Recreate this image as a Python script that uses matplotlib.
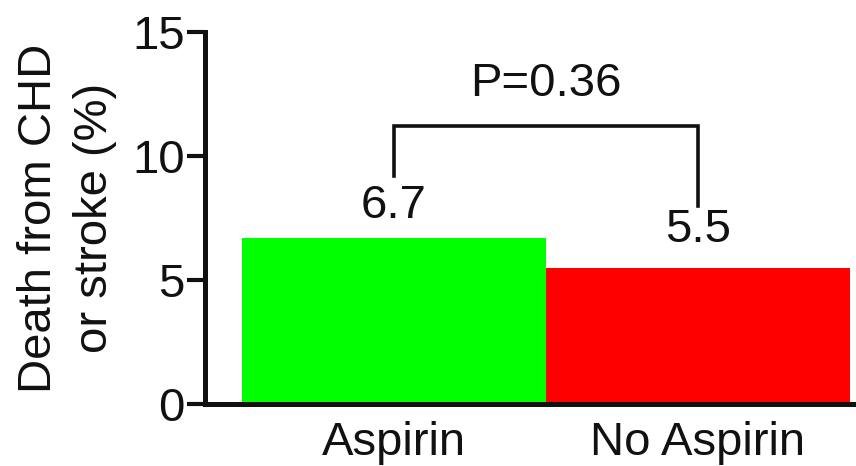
import matplotlib
matplotlib.use("Agg")
import matplotlib.pyplot as plt

groups = ["Aspirin", "No Aspirin"]
death_pct = [6.7, 5.5]
bar_colors = ["#00ff00", "#ff0000"]
p_text = "P=0.36"
y_ticks = [0, 5, 10, 15]

plt.rcParams["font.family"] = ["Liberation Sans", "DejaVu Sans"]
FS = 34

fig = plt.figure(figsize=(8.56, 4.66), dpi=100)
ax = fig.add_axes([205 / 856, 1 - 404 / 466, 1 - 205 / 856, 372 / 466])

x = list(range(len(groups)))
ax.bar(x, death_pct, width=1.0, color=bar_colors, edgecolor="none", zorder=2)

ax.set_xlim(-0.62, 1.52)
ax.set_ylim(0, 15)
ax.set_yticks(y_ticks)
ax.set_yticklabels([str(t) for t in y_ticks], fontsize=FS, color="#111111")
ax.set_xticks(x)
ax.set_xticklabels(groups, fontsize=FS, color="#111111")
ax.tick_params(axis="y", direction="out", length=13, width=3, pad=1.5, color="#111111")
ax.tick_params(axis="x", length=0, pad=12)

for side in ("top", "right"):
    ax.spines[side].set_visible(False)
for side in ("left", "bottom"):
    ax.spines[side].set_linewidth(3.6)
    ax.spines[side].set_color("#111111")
    ax.spines[side].set_capstyle("projecting")

ax.set_ylabel("Death from CHD\nor stroke (%)", fontsize=FS, linespacing=1.35,
              labelpad=11, color="#111111")

# value labels above bars
label_offsets = [1.3, 1.5]
for xi, v, off in zip(x, death_pct, label_offsets):
    ax.text(xi, v + off, f"{v}", ha="center", va="center", fontsize=FS, color="#111111")

# significance bracket
bracket_top = 11.2
leg_bottoms = [9.2, 8.0]
ax.plot([x[0], x[0], x[1], x[1]], [leg_bottoms[0], bracket_top, bracket_top, leg_bottoms[1]],
        color="#111111", lw=2.6, solid_joinstyle="miter", clip_on=False)
ax.text((x[0] + x[1]) / 2, 12.9, p_text, ha="center", va="center", fontsize=FS, color="#111111")

fig.savefig("out.png", dpi=100)
